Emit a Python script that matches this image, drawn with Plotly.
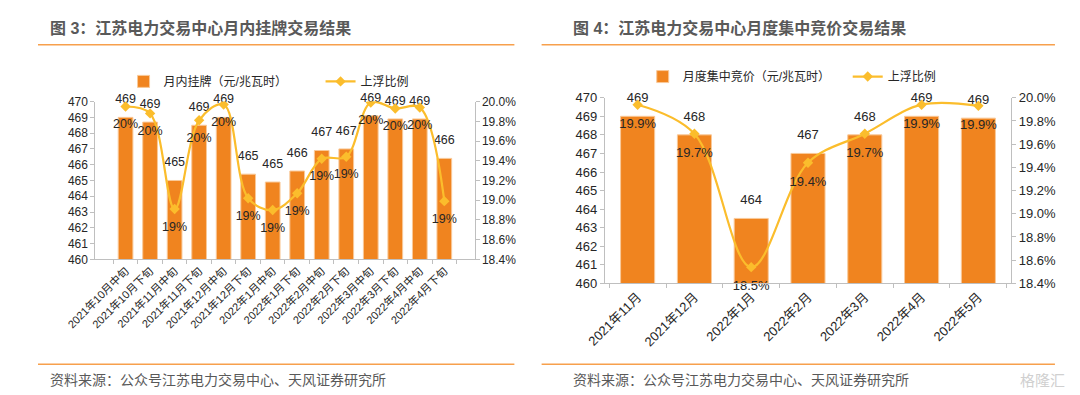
import plotly.graph_objects as go

# ---------------- data ----------------
cats_left = ["2021年10月中旬", "2021年10月下旬", "2021年11月中旬", "2021年11月下旬",
             "2021年12月中旬", "2021年12月下旬", "2022年1月中旬", "2022年1月下旬",
             "2022年2月中旬", "2022年2月下旬", "2022年3月中旬", "2022年3月下旬",
             "2022年4月中旬", "2022年4月下旬"]
price_left = [469.0, 468.7, 465.0, 468.5, 469.0, 465.4, 464.9, 465.6,
              466.9, 467.0, 469.1, 468.9, 468.9, 466.4]
ratio_left = [0.1995, 0.1988, 0.1891, 0.1981, 0.1997, 0.1902, 0.1890, 0.1907,
              0.1942, 0.1944, 0.1999, 0.1993, 0.1994, 0.1899]

cats_right = ["2021年11月", "2021年12月", "2022年1月", "2022年2月",
              "2022年3月", "2022年4月", "2022年5月"]
price_right = [469.0, 468.0, 463.5, 467.0, 468.0, 469.0, 468.9]
ratio_right = [0.1994, 0.1969, 0.1854, 0.1944, 0.1969, 0.1994, 0.1993]

title_left = "图 3：江苏电力交易中心月内挂牌交易结果"
title_right = "图 4：江苏电力交易中心月度集中竞价交易结果"
source_text = "资料来源：公众号江苏电力交易中心、天风证券研究所"
bar_name_left = "月内挂牌（元/兆瓦时）"
bar_name_right = "月度集中竞价（元/兆瓦时）"
line_name = "上浮比例"

# ---------------- style ----------------
W, H = 1080, 395
BAR = "#F0841F"
BAR_EDGE = "#F9C999"
LINE = "#FBBD2C"
AXIS = "#BFBFBF"
TXT = "#262626"
GREY = "#595959"
ORANGE_RULE = "#F7A04C"
FONT = "Liberation Sans, Arial, Noto Sans CJK SC, sans-serif"


def px_x(x):
    return x / W


def px_y(y):
    return 1 - y / H


fig = go.Figure()

# ---- left chart ----
fig.add_trace(go.Bar(x=cats_left, y=price_left, xaxis="x", yaxis="y",
                     marker=dict(color=BAR, line=dict(color=BAR_EDGE, width=1)),
                     width=0.6, name=bar_name_left, legend="legend"))
fig.add_trace(go.Scatter(x=cats_left, y=ratio_left, xaxis="x", yaxis="y2",
                         mode="lines+markers", name=line_name, legend="legend",
                         line=dict(color=LINE, width=2.2, shape="spline", smoothing=1),
                         marker=dict(symbol="diamond", size=8, color=LINE)))
fig.add_trace(go.Scatter(x=cats_left, y=price_left, xaxis="x", yaxis="y",
                         mode="markers+text", showlegend=False, hoverinfo="skip",
                         marker=dict(size=16, opacity=0), cliponaxis=False,
                         texttemplate="%{y:.0f}", textposition="top center",
                         textfont=dict(size=12.5, color=TXT, family=FONT)))
fig.add_trace(go.Scatter(x=cats_left, y=ratio_left, xaxis="x", yaxis="y2",
                         mode="markers+text", showlegend=False, hoverinfo="skip",
                         marker=dict(size=18, opacity=0), cliponaxis=False,
                         texttemplate="%{y:.0%}", textposition="bottom center",
                         textfont=dict(size=12.5, color=TXT, family=FONT)))

# ---- right chart ----
fig.add_trace(go.Bar(x=cats_right, y=price_right, xaxis="x2", yaxis="y3",
                     marker=dict(color=BAR, line=dict(color=BAR_EDGE, width=1)),
                     width=0.6, name=bar_name_right, legend="legend2"))
fig.add_trace(go.Scatter(x=cats_right, y=ratio_right, xaxis="x2", yaxis="y4",
                         mode="lines+markers", name=line_name, legend="legend2",
                         line=dict(color=LINE, width=2.2, shape="spline", smoothing=1),
                         marker=dict(symbol="diamond", size=8, color=LINE)))
fig.add_trace(go.Scatter(x=cats_right, y=price_right, xaxis="x2", yaxis="y3",
                         mode="markers+text", showlegend=False, hoverinfo="skip",
                         marker=dict(size=16, opacity=0), cliponaxis=False,
                         texttemplate="%{y:.0f}", textposition="top center",
                         textfont=dict(size=13, color=TXT, family=FONT)))
fig.add_trace(go.Scatter(x=cats_right, y=ratio_right, xaxis="x2", yaxis="y4",
                         mode="markers+text", showlegend=False, hoverinfo="skip",
                         marker=dict(size=20, opacity=0), cliponaxis=False,
                         texttemplate="%{y:.1%}", textposition="bottom center",
                         textfont=dict(size=13, color=TXT, family=FONT)))

tick_common = dict(showline=True, linecolor=AXIS, linewidth=1, ticks="outside",
                   tickcolor=AXIS, ticklen=4, showgrid=False, zeroline=False)

fig.update_layout(
    width=W, height=H, margin=dict(l=0, r=0, t=0, b=0),
    paper_bgcolor="white", plot_bgcolor="white",
    font=dict(family=FONT, color=TXT, size=12),
    xaxis=dict(domain=[px_x(59), px_x(449)], anchor="y", tickangle=-45,
               tickson="boundaries", tickfont=dict(size=11, color=TXT), **tick_common),
    yaxis=dict(domain=[px_y(254), px_y(90)], anchor="x", range=[460, 470], dtick=1,
               tickfont=dict(size=12, color=TXT), **tick_common),
    yaxis2=dict(overlaying="y", anchor="x", side="right", range=[0.184, 0.200],
                dtick=0.002, tickformat=".1%", tickfont=dict(size=12, color=TXT),
                **tick_common),
    xaxis2=dict(domain=[px_x(583), px_x(1001)], anchor="y3", tickangle=-45,
                tickson="boundaries", tickfont=dict(size=13, color=TXT), **tick_common),
    yaxis3=dict(domain=[px_y(279), px_y(86)], anchor="x2", range=[460, 470], dtick=1,
                tickfont=dict(size=13, color=TXT), **tick_common),
    yaxis4=dict(overlaying="y3", anchor="x2", side="right", range=[0.184, 0.200],
                dtick=0.002, tickformat=".1%", tickfont=dict(size=13, color=TXT),
                **tick_common),
    legend=dict(orientation="h", x=px_x(88), y=px_y(69), xanchor="left", yanchor="middle",
                entrywidth=152, entrywidthmode="pixels", bgcolor="rgba(0,0,0,0)",
                font=dict(size=12, color=TXT), itemwidth=30),
    legend2=dict(orientation="h", x=px_x(622), y=px_y(64), xanchor="left", yanchor="middle",
                 entrywidth=160, entrywidthmode="pixels", bgcolor="rgba(0,0,0,0)",
                 font=dict(size=12, color=TXT), itemwidth=30),
    showlegend=True,
)

annotations = [
    dict(text=f"<b>{title_left}</b>", x=px_x(10), y=px_y(14), xanchor="left", yanchor="middle"),
    dict(text=f"<b>{title_right}</b>", x=px_x(548), y=px_y(14), xanchor="left", yanchor="middle"),
]
for a in annotations:
    a.update(xref="paper", yref="paper", showarrow=False,
             font=dict(size=16, color=GREY, family=FONT))
foot = [
    dict(text=source_text, x=px_x(10), y=px_y(379)),
    dict(text=source_text, x=px_x(548), y=px_y(379)),
]
for a in foot:
    a.update(xref="paper", yref="paper", showarrow=False, xanchor="left", yanchor="middle",
             font=dict(size=14, color=GREY, family=FONT))
annotations += foot
annotations.append(dict(text="格隆汇", x=px_x(1058), y=px_y(380), xref="paper", yref="paper",
                        showarrow=False, xanchor="right", yanchor="middle",
                        font=dict(size=15, color="#D0D0D0", family=FONT)))
fig.update_layout(annotations=annotations)

shapes = []
for x0, x1 in [(0, 490), (518, 1046)]:
    for yy in (31, 363):
        shapes.append(dict(type="line", xref="paper", yref="paper",
                           x0=px_x(x0), x1=px_x(x1), y0=px_y(yy), y1=px_y(yy),
                           line=dict(color=ORANGE_RULE, width=1.5)))
fig.update_layout(shapes=shapes)

fig.write_html("out.html")
